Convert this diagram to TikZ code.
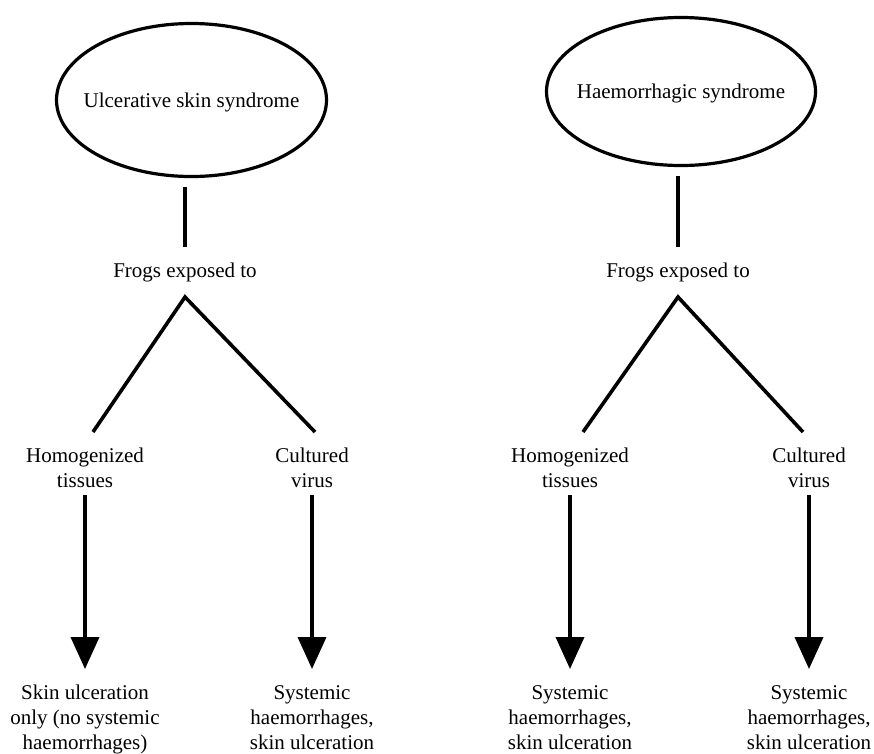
\documentclass[tikz,border=0pt]{standalone}
\usepackage{fontspec}
\setmainfont{Liberation Serif}
\usetikzlibrary{shapes.geometric,arrows.meta}
\begin{document}
\begin{tikzpicture}[x=1pt,y=-1pt,
  lbl/.style={font=\fontsize{21}{25}\selectfont, inner sep=0pt, align=center},
  oval/.style={ellipse, draw, line width=3.2pt, inner sep=0pt},
  stem/.style={line width=3.6pt},
  arr/.style={line width=3.8pt, -{Triangle[width=28pt,length=32pt]}, shorten <=7pt, shorten >=16pt}]
\useasboundingbox (0,0) rectangle (874,753);
% left group
\node[oval, minimum width=270pt, minimum height=153pt] (e1) at (191.5,100) {};
\node[lbl, anchor=base] (t1) at (191.5,107) {Ulcerative skin syndrome};
\node[lbl, anchor=base] (f1) at (185,277) {Frogs exposed to};
\draw[stem, shorten <=9pt, shorten >=15.7pt] (e1.south -| f1.north) -- (f1.north);
\node[lbl, anchor=north] (h1) at (85,448) {Homogenized\\tissues};
\node[lbl, anchor=north] (c1) at (312,448) {Cultured\\virus};
\coordinate (v1) at (185,297);
\coordinate (l1) at (93,432);
\coordinate (r1) at (315,432);
\draw[stem] (l1) -- (v1) -- (r1);
\node[lbl, anchor=north] (b1) at (85,685) {Skin ulceration\\only (no systemic\\haemorrhages)};
\node[lbl, anchor=north] (b2) at (312,685) {Systemic\\haemorrhages,\\skin ulceration};
\draw[arr] (h1.south) -- (b1.north);
\draw[arr] (c1.south) -- (b2.north);
% right group
\node[oval, minimum width=269pt, minimum height=148pt] (e2) at (681,91.5) {};
\node[lbl, anchor=base] (t2) at (681,98) {Haemorrhagic syndrome};
\node[lbl, anchor=base] (f2) at (678,277) {Frogs exposed to};
\draw[stem, shorten <=9pt, shorten >=15.7pt] (e2.south -| f2.north) -- (f2.north);
\node[lbl, anchor=north] (h2) at (570,448) {Homogenized\\tissues};
\node[lbl, anchor=north] (c2) at (809,448) {Cultured\\virus};
\coordinate (v2) at (678,297);
\coordinate (l2) at (583,432);
\coordinate (r2) at (803,432);
\draw[stem] (l2) -- (v2) -- (r2);
\node[lbl, anchor=north] (b3) at (570,685) {Systemic\\haemorrhages,\\skin ulceration};
\node[lbl, anchor=north] (b4) at (809,685) {Systemic\\haemorrhages,\\skin ulceration};
\draw[arr] (h2.south) -- (b3.north);
\draw[arr] (c2.south) -- (b4.north);
\end{tikzpicture}
\end{document}
